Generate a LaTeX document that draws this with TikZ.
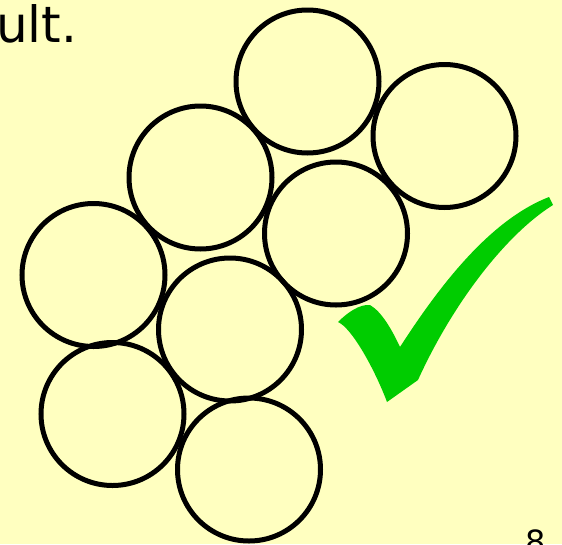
\documentclass[tikz,border=0pt]{standalone}
\usepackage{fontspec}
\setmainfont{DejaVu Sans}
\definecolor{slideyellow}{HTML}{FFFFC0}
\definecolor{tickgreen}{HTML}{00CC00}

\begin{document}
\begin{tikzpicture}[x=1pt,y=-1pt,
  ball/.style={draw,circle,line width=5pt,minimum size=143pt,inner sep=0pt}]
\fill[slideyellow] (0,0) rectangle (562,544);
\useasboundingbox (0,0) rectangle (562,544);
\node[anchor=base west,inner sep=0pt,font=\fontsize{50}{60}\selectfont] (txt) at (-4,42) {ult.};
\node[anchor=base west,inner sep=0pt,font=\fontsize{32}{38}\selectfont] (pageno) at (525.7,553) {8};
% packed balls
\foreach \name/\cx/\cy in {c1/307.5/81.5,c2/444.5/136,c3/200.5/177.5,c4/336/233.5,
  c5/93.5/275,c6/230/329.5,c7/112.5/414,c8/249/469.5}
  \node[ball] (\name) at (\cx,\cy) {};
% tick
\fill[tickgreen] (338,322) .. controls (348,312) and (360,304) .. (370,305)
  .. controls (382,312) and (392,330) .. (400,347)
  .. controls (440,285) and (490,220) .. (549,197)
  -- (553,205)
  .. controls (505,235) and (452,305) .. (418,380)
  -- (387,402)
  .. controls (375,370) and (352,328) .. (338,322) -- cycle;
\end{tikzpicture}
\end{document}
